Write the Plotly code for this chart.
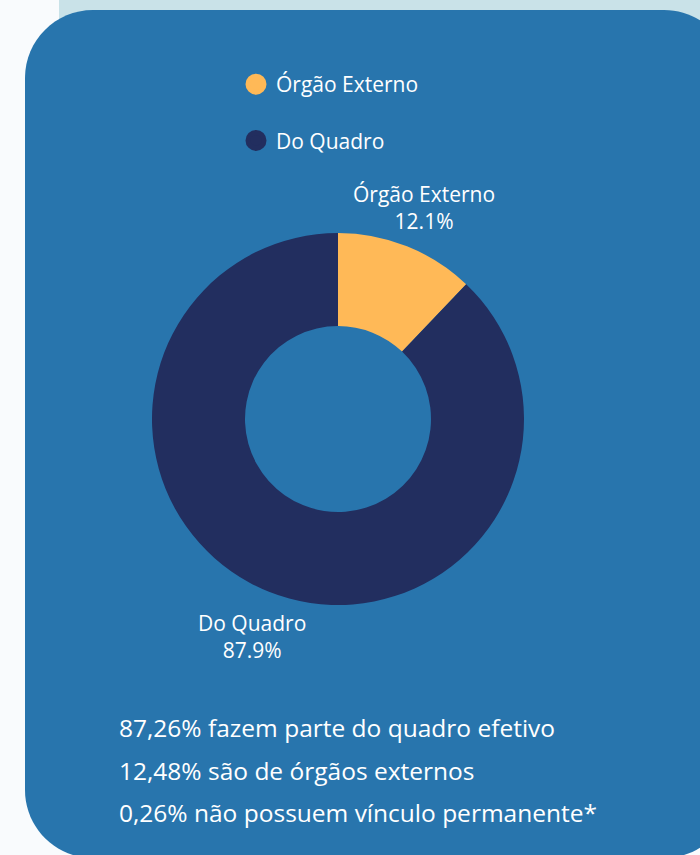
import math
import plotly.graph_objects as go

# ---- data ----
categories = ["Órgão Externo", "Do Quadro"]
values = [12.1, 87.9]
colors = ["#ffb957", "#222e5f"]
notes = [
    "87,26% fazem parte do quadro efetivo",
    "12,48% são de órgãos externos",
    "0,26% não possuem vínculo permanente*",
]

W, H = 700, 855
FONT = "Open Sans"
CX, CY, R = 338, 419, 186   # pie centre / outer radius in pixels
LABEL_R = 231               # distance of outside labels from centre
LABEL_DY = 3                # small downward nudge of the label block


def px(x):
    return x / W


def py(y):
    return 1 - y / H


def rounded_rect(x0, y0, x1, y1, r):
    k = 0.5523 * r
    pts = []
    pts.append(f"M {px(x0 + r)},{py(y0)}")
    pts.append(f"L {px(x1 - r)},{py(y0)}")
    pts.append(f"C {px(x1 - r + k)},{py(y0)} {px(x1)},{py(y0 + r - k)} {px(x1)},{py(y0 + r)}")
    pts.append(f"L {px(x1)},{py(y1 - r)}")
    pts.append(f"C {px(x1)},{py(y1 - r + k)} {px(x1 - r + k)},{py(y1)} {px(x1 - r)},{py(y1)}")
    pts.append(f"L {px(x0 + r)},{py(y1)}")
    pts.append(f"C {px(x0 + r - k)},{py(y1)} {px(x0)},{py(y1 - r + k)} {px(x0)},{py(y1 - r)}")
    pts.append(f"L {px(x0)},{py(y0 + r)}")
    pts.append(f"C {px(x0)},{py(y0 + r - k)} {px(x0 + r - k)},{py(y0)} {px(x0 + r)},{py(y0)}")
    pts.append("Z")
    return " ".join(pts)


fig = go.Figure()

fig.add_trace(go.Pie(
    labels=categories,
    values=values,
    hole=0.5,
    sort=False,
    direction="clockwise",
    marker=dict(colors=colors, line=dict(width=0)),
    textinfo="none",
    showlegend=False,
    domain=dict(x=[px(CX - R), px(CX + R)], y=[py(CY + R), py(CY - R)]),
    hoverinfo="label+percent",
))

for i, c in enumerate(categories):
    fig.add_trace(go.Scatter(
        x=[None], y=[None], mode="markers", name=c,
        marker=dict(color=colors[i], size=20, symbol="circle",
                    line=dict(color=colors[i], width=5)),
        legendgroup=c, showlegend=True,
    ))

shapes = [
    dict(type="rect", xref="paper", yref="paper", x0=px(59), x1=1, y0=py(60), y1=1,
         fillcolor="#c9e2e8", line=dict(width=0), layer="below"),
    dict(type="path", xref="paper", yref="paper", path=rounded_rect(25, 10, 732, 858, 68),
         fillcolor="#2875ad", line=dict(width=0), layer="below"),
]

annotations = []

# outside slice labels placed on each slice's mid-angle
total = sum(values)
cum = 0.0
for lab, v in zip(categories, values):
    frac = v / total
    mid = (cum + frac / 2) * 2 * math.pi   # clockwise from 12 o'clock
    cum += frac
    lx = CX + LABEL_R * math.sin(mid)
    ly = CY - LABEL_R * math.cos(mid) + LABEL_DY
    annotations.append(dict(
        text=f"{lab}<br>{frac * 100:.1f}%", x=px(lx), y=py(ly), xref="paper", yref="paper",
        xanchor="center", yanchor="middle", showarrow=False, align="center",
        font=dict(family=FONT, size=21, color="white"),
    ))

ys = [727, 770, 812]
for t, y in zip(notes, ys):
    annotations.append(dict(
        text=t, x=px(117), y=py(y), xref="paper", yref="paper",
        xanchor="left", yanchor="middle", showarrow=False,
        font=dict(family=FONT, size=24.5, color="white"),
    ))

fig.update_layout(
    width=W, height=H,
    margin=dict(l=0, r=0, t=0, b=0),
    paper_bgcolor="#f9fbfd",
    plot_bgcolor="rgba(0,0,0,0)",
    xaxis=dict(visible=False),
    yaxis=dict(visible=False),
    shapes=shapes,
    annotations=annotations,
    font=dict(family=FONT, color="white"),
    legend=dict(
        x=px(236), y=py(64), xanchor="left", yanchor="top",
        bgcolor="rgba(0,0,0,0)", font=dict(family=FONT, size=21, color="white"),
        tracegroupgap=26, itemsizing="trace",
    ),
)

fig.write_html(
    "out.html",
    config={"displayModeBar": False},
    post_script="document.body.style.margin='0';document.body.style.overflow='hidden';",
)
